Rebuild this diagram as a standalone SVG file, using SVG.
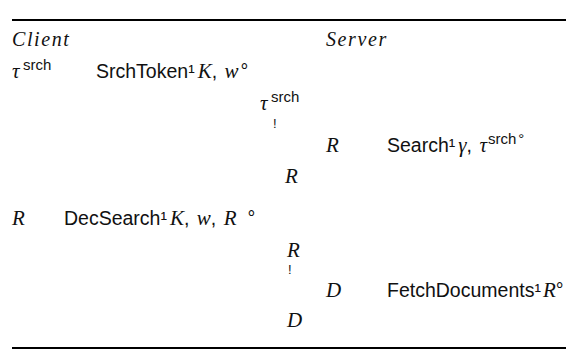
<svg xmlns="http://www.w3.org/2000/svg" width="578" height="362" viewBox="0 0 578 362">
  <style>
    .it { font-family: "Liberation Serif", "DejaVu Serif", serif; font-style: italic; font-size: 21px; fill: #111; }
    .hd { font-size: 20px; letter-spacing: 1.6px; }
    .sf { font-family: "Liberation Sans", "DejaVu Sans", sans-serif; font-size: 19.5px; fill: #111; }
    .sup { font-family: "Liberation Sans", "DejaVu Sans", sans-serif; font-size: 15px; fill: #111; }
    .bang { font-family: "Liberation Sans", "DejaVu Sans", sans-serif; font-size: 13px; fill: #111; }
    .rule { stroke: #000; stroke-width: 2; }
  </style>

  <!-- table rules -->
  <line class="rule" x1="12" y1="20" x2="566" y2="20"/>
  <line class="rule" x1="12" y1="348" x2="566" y2="348"/>

  <!-- column heads -->
  <text class="it hd" x="12" y="46">Client</text>
  <text class="it hd" x="326" y="46">Server</text>

  <!-- client: token generation -->
  <g id="row-token">
    <text class="it" x="12" y="78">τ</text>
    <text class="sup" x="23" y="70">srch</text>
    <text class="sf" x="96" y="78">SrchToken¹<tspan class="it" dx="3">K</tspan>, <tspan class="it" dx="2">w</tspan><tspan dx="2">°</tspan></text>
  </g>

  <!-- token sent -->
  <g id="row-send">
    <text class="it" x="260" y="110">τ</text>
    <text class="sup" x="271" y="102">srch</text>
    <text class="bang" x="273" y="128">!</text>
  </g>

  <!-- server: search -->
  <g id="row-search">
    <text class="it" x="326" y="152">R</text>
    <text class="sf" x="387" y="152">Search¹<tspan class="it" dx="3">γ</tspan>, <tspan class="it" dx="2">τ</tspan><tspan class="sup" dx="1" dy="-8">srch</tspan><tspan class="sup" dx="2">°</tspan></text>
  </g>

  <g id="row-result">
    <text class="it" x="285" y="183">R</text>
  </g>

  <!-- client: decrypt search -->
  <g id="row-dec">
    <text class="it" x="12" y="225">R</text>
    <text class="sf" x="64" y="225">DecSearch¹<tspan class="it" dx="3">K</tspan>, <tspan class="it" dx="2">w</tspan>, <tspan class="it" dx="2">R</tspan><tspan dx="11">°</tspan></text>
  </g>

  <g id="row-send2">
    <text class="it" x="287" y="257">R</text>
    <text class="bang" x="288" y="274">!</text>
  </g>

  <!-- server: fetch documents -->
  <g id="row-fetch">
    <text class="it" x="326" y="297">D</text>
    <text class="sf" x="387" y="297">FetchDocuments¹<tspan class="it" dx="2">R</tspan>°</text>
  </g>

  <g id="row-docs">
    <text class="it" x="287" y="327">D</text>
  </g>
</svg>
